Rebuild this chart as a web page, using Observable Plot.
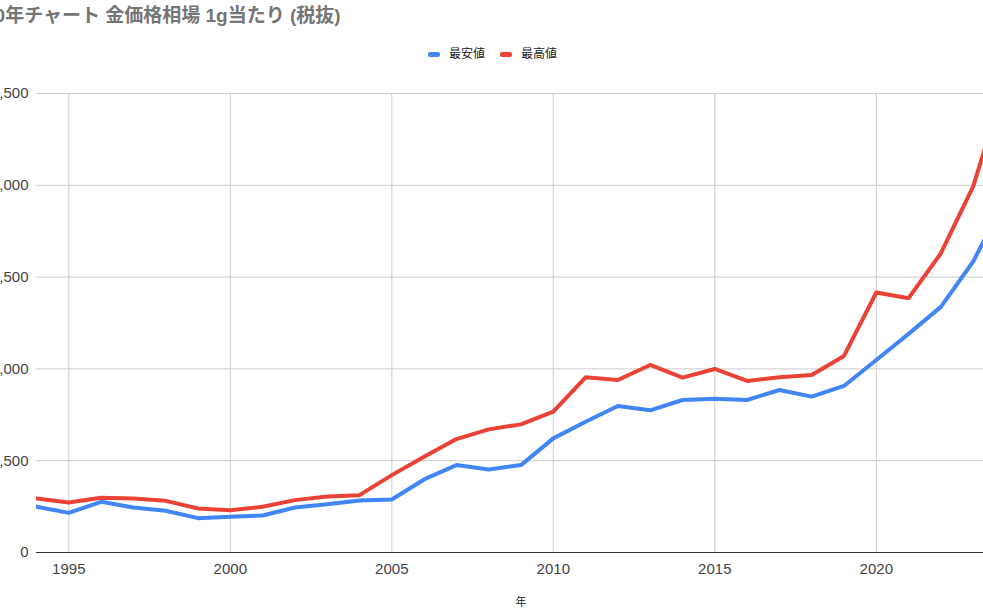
<!DOCTYPE html>
<html><head><meta charset="utf-8">
<script src="https://cdn.jsdelivr.net/npm/d3@7"></script>
<script src="https://cdn.jsdelivr.net/npm/@observablehq/plot@0.6"></script>
<style>
body{margin:0;background:#fff;}
#wrap{position:relative;width:983px;height:610px;overflow:hidden;font-family:"Liberation Sans",Arial,"Noto Sans CJK JP",sans-serif;background:#fff;}
#title{position:absolute;left:-16px;top:5px;font-size:19px;font-weight:bold;color:#757575;white-space:nowrap;line-height:22px;}
#legend{position:absolute;left:428px;top:47px;display:flex;align-items:center;font-size:12px;color:#222;line-height:14px;}
#legend .sw{display:inline-block;width:12px;height:5px;border-radius:2px;margin-right:9px;}
#legend .item{display:flex;align-items:center;margin-right:15px;}
#chart{position:absolute;left:-60px;top:75px;width:1075px;}
#chart svg{max-width:none !important;}
</style></head>
<body>
<div id="wrap">
  <div id="title">30年チャート 金価格相場 1g当たり (税抜)</div>
  <div id="legend"></div>
  <div id="chart"></div>
</div>
<script>
const years = [1994,1995,1996,1997,1998,1999,2000,2001,2002,2003,2004,2005,2006,2007,2008,2009,2010,2011,2012,2013,2014,2015,2016,2017,2018,2019,2020,2021,2022,2023,2024];
const minPrice = [1244,1080,1380,1226,1135,935,971,1008,1226,1317,1417,1444,1990,2380,2262,2380,3108,3562,3989,3871,4153,4189,4153,4426,4244,4535,5244,5953,6690,7925,9630];
const maxPrice = [1472,1363,1489,1472,1407,1199,1153,1244,1426,1526,1562,2107,2607,3089,3353,3489,3835,4771,4698,5107,4762,4998,4671,4771,4835,5353,7080,6926,8150,9971,12820];
const seriesNames = ["最安値","最高値"];
const seriesColors = ["#4285F4","#EA4335"];
const xTicks = [1995,2000,2005,2010,2015,2020];
const yTicks = [0,2500,5000,7500,10000,12500];

const rows = [];
years.forEach((y,i)=>{
  rows.push({year:y, value:minPrice[i], series:seriesNames[0]});
  rows.push({year:y, value:maxPrice[i], series:seriesNames[1]});
});

const legend = document.getElementById("legend");
seriesNames.forEach((n,i)=>{
  const it = document.createElement("span");
  it.className = "item";
  it.innerHTML = `<span class="sw" style="background:${seriesColors[i]}"></span><span>${n}</span>`;
  legend.appendChild(it);
});

const font = '"Liberation Sans", Arial, "Noto Sans CJK JP", sans-serif';
const chart = Plot.plot({
  width: 1075,
  height: 535,
  marginLeft: 96,
  marginRight: 10,
  marginTop: 18,
  marginBottom: 58,
  style: {fontSize: "15px", fontFamily: font, color: "#444", background: "transparent", maxWidth: "none"},
  x: {domain: [1994, 2024]},
  y: {domain: [0, 12500]},
  color: {domain: seriesNames, range: seriesColors},
  marks: [
    Plot.gridX(xTicks, {stroke: "#ccc", strokeOpacity: 1}),
    Plot.gridY(yTicks.slice(1), {stroke: "#ccc", strokeOpacity: 1}),
    Plot.axisX(xTicks, {tickSize: 0, tickPadding: 11, tickFormat: d => String(d), label: null, fill: "#444"}),
    Plot.axisY(yTicks, {tickSize: 0, tickPadding: 8, tickFormat: d3.format(","), label: null, fill: "#444"}),
    Plot.ruleY([0], {stroke: "#333", strokeWidth: 1}),
    Plot.line(rows, {x: "year", y: "value", z: "series", stroke: "series", strokeWidth: 4, strokeLinejoin: "round", clip: true}),
    Plot.text(["年"], {frameAnchor: "bottom", dy: 53, fontSize: 11, fill: "#222"})
  ]
});
document.getElementById("chart").appendChild(chart);
</script>
</body></html>
